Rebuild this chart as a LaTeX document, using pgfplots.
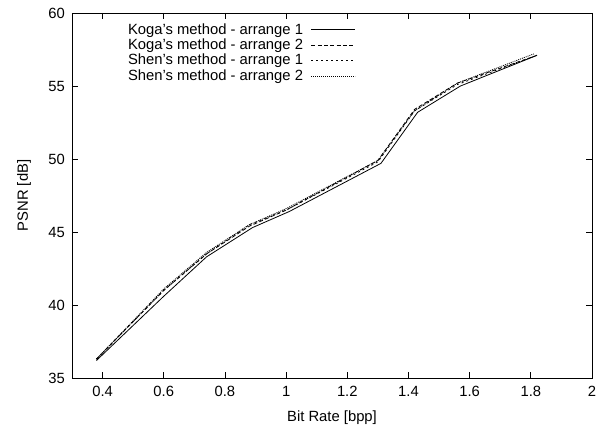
\documentclass[border=0pt]{standalone}
\usepackage{fontspec}
\setmainfont{Liberation Sans}
\usepackage{pgfplots}
\pgfplotsset{compat=1.18}
\begin{document}
\fontsize{14.8bp}{16.5bp}\selectfont
\begin{tikzpicture}
\begin{axis}[
  scale only axis,
  width=520bp, height=365bp,
  xmin=0.3, xmax=2, ymin=35, ymax=60,
  xtick={0.4,0.6,0.8,1,1.2,1.4,1.6,1.8,2},
  xticklabels={0.4,0.6,0.8,1,1.2,1.4,1.6,1.8,2},
  ytick={35,40,45,50,55,60},
  xticklabel style={yshift=-3bp},
  yticklabel style={xshift=-2bp},
  tick align=inside,
  major tick length=6bp,
  axis line style={line width=0.8bp},
  every tick/.style={black, line width=0.8bp},
  /pgf/number format/assume math mode=true,
  xlabel={Bit Rate [bpp]},
  ylabel={PSNR [dB]},
  xlabel style={at={(axis description cs:0.5,-0.11)}, anchor=center},
  ylabel style={at={(axis description cs:-0.092,0.5)}, anchor=center},
  legend plot pos=right,
  legend cell align=right,
  legend image code/.code={\draw[#1] (0bp,0bp) -- (44bp,0bp);},
  legend style={draw=none, fill=none, at={(rel axis cs:0.552,0.983)}, anchor=north east,
    row sep=-1.5bp, /tikz/every odd column/.append style={column sep=6bp}},
]
\coordinate (ll) at (rel axis cs:0,0);
\coordinate (ur) at (rel axis cs:1,1);
\addplot[black, line width=0.8bp] coordinates {
  (0.38,36.2) (0.60,40.6) (0.74,43.3) (0.89,45.3) (1.01,46.4) (1.31,49.7) (1.43,53.2) (1.57,55.0) (1.82,57.1)};
\addplot[black, line width=0.8bp, dash pattern=on 4bp off 2.3bp] coordinates {
  (0.38,36.3) (0.60,41.0) (0.74,43.5) (0.88,45.4) (1.00,46.5) (1.30,49.9) (1.42,53.4) (1.56,55.2) (1.82,57.1)};
\addplot[black, line width=0.8bp, dash pattern=on 2bp off 3bp] coordinates {
  (0.38,36.3) (0.60,41.0) (0.74,43.5) (0.88,45.5) (1.00,46.5) (1.30,49.8) (1.42,53.3) (1.56,55.1) (1.82,57.1)};
\addplot[black, line width=0.8bp, dash pattern=on 1bp off 1bp] coordinates {
  (0.38,36.3) (0.60,41.1) (0.74,43.6) (0.88,45.5) (1.00,46.6) (1.30,49.9) (1.42,53.3) (1.56,55.2) (1.81,57.2)};
\legend{Koga's method - arrange 1, Koga's method - arrange 2, Shen's method - arrange 1, Shen's method - arrange 2}
\end{axis}
\path ([shift={(-72bp,-47bp)}]ll) rectangle ([shift={(15bp,13bp)}]ur);
\end{tikzpicture}
\end{document}
